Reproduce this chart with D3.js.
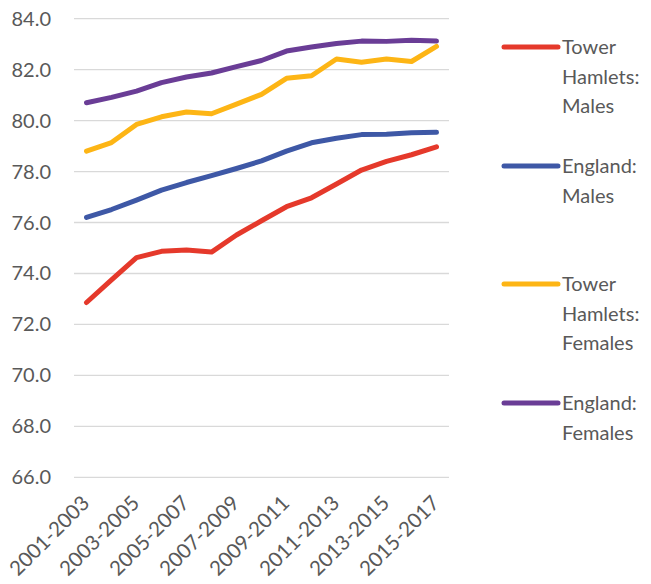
<!DOCTYPE html>
<html>
<head>
<meta charset="utf-8">
<script src="https://cdn.jsdelivr.net/npm/d3@7"></script>
<style>
  html, body { margin: 0; padding: 0; background: #fff; }
  svg { display: block; font-family: Lato, "Open Sans", sans-serif; }
</style>
</head>
<body>
<svg id="chart" width="651" height="584"></svg>
<script>
// Life expectancy at birth, three-year periods
const periods = [
  "2001-2003", "2002-2004", "2003-2005", "2004-2006", "2005-2007",
  "2006-2008", "2007-2009", "2008-2010", "2009-2011", "2010-2012",
  "2011-2013", "2012-2014", "2013-2015", "2014-2016", "2015-2017"
];
const towerHamletsMales = [72.86, 73.75, 74.62, 74.87, 74.92, 74.84, 75.51, 76.07, 76.62, 76.97, 77.51, 78.06, 78.40, 78.66, 78.97];
const englandMales      = [76.20, 76.51, 76.88, 77.27, 77.57, 77.84, 78.12, 78.42, 78.80, 79.13, 79.31, 79.45, 79.46, 79.52, 79.54];
const towerHamletsFemales = [78.80, 79.14, 79.85, 80.15, 80.34, 80.27, 80.65, 81.03, 81.66, 81.76, 82.42, 82.29, 82.42, 82.32, 82.91];
const englandFemales    = [80.70, 80.91, 81.16, 81.49, 81.71, 81.87, 82.12, 82.36, 82.73, 82.89, 83.03, 83.12, 83.11, 83.15, 83.12];
const yTicks = [66, 68, 70, 72, 74, 76, 78, 80, 82, 84];

const series = [
  { lines: ["Tower", "Hamlets:", "Males"],   values: towerHamletsMales,   color: "#e5392b", ly: 47 },
  { lines: ["England:", "Males"],            values: englandMales,        color: "#3e58a6", ly: 166 },
  { lines: ["Tower", "Hamlets:", "Females"], values: towerHamletsFemales, color: "#fdb515", ly: 284 },
  { lines: ["England:", "Females"],          values: englandFemales,      color: "#6a3d96", ly: 403 }
];

const svg = d3.select("#chart");
const plot = { left: 74, right: 449, top: 18.7, bottom: 477.3 };

const x = d3.scaleBand().domain(periods).range([plot.left, plot.right]);
const y = d3.scaleLinear().domain([66, 84]).range([plot.bottom, plot.top]);
const cx = d => x(d) + x.bandwidth() / 2;

// horizontal gridlines
svg.append("g")
  .selectAll("line")
  .data(yTicks)
  .join("line")
  .attr("x1", plot.left).attr("x2", plot.right)
  .attr("y1", d => y(d)).attr("y2", d => y(d))
  .attr("stroke", "#d9d9d9").attr("stroke-width", 1.3);

// y axis labels
svg.append("g")
  .selectAll("text")
  .data(yTicks)
  .join("text")
  .attr("x", 51).attr("y", d => y(d))
  .attr("dy", "0.35em")
  .attr("text-anchor", "end")
  .attr("fill", "#595959")
  .attr("font-size", 20)
  .text(d => d.toFixed(1));

// x axis labels, every other period, rotated
svg.append("g")
  .selectAll("text")
  .data(periods.filter((d, i) => i % 2 === 0))
  .join("text")
  .attr("transform", d => `translate(${cx(d) - 6},${plot.bottom + 17}) rotate(-45)`)
  .attr("text-anchor", "end")
  .attr("dy", "0.7em")
  .attr("fill", "#595959")
  .attr("font-size", 20.5)
  .text(d => d);

// series lines
const line = d3.line()
  .x((d, i) => cx(periods[i]))
  .y(d => y(d));

svg.append("g")
  .selectAll("path")
  .data(series)
  .join("path")
  .attr("d", d => line(d.values))
  .attr("fill", "none")
  .attr("stroke", d => d.color)
  .attr("stroke-width", 5)
  .attr("stroke-linecap", "round")
  .attr("stroke-linejoin", "round");

// legend
const leg = svg.append("g")
  .selectAll("g")
  .data(series)
  .join("g");

leg.append("line")
  .attr("x1", 504).attr("x2", 558)
  .attr("y1", d => d.ly).attr("y2", d => d.ly)
  .attr("stroke", d => d.color)
  .attr("stroke-width", 5)
  .attr("stroke-linecap", "round");

leg.append("text")
  .attr("fill", "#595959")
  .attr("font-size", 20)
  .selectAll("tspan")
  .data(d => d.lines.map((t, i) => ({ t, y: d.ly + i * 29.5 })))
  .join("tspan")
  .attr("x", 562)
  .attr("y", d => d.y)
  .attr("dy", "0.35em")
  .text(d => d.t);
</script>
</body>
</html>
